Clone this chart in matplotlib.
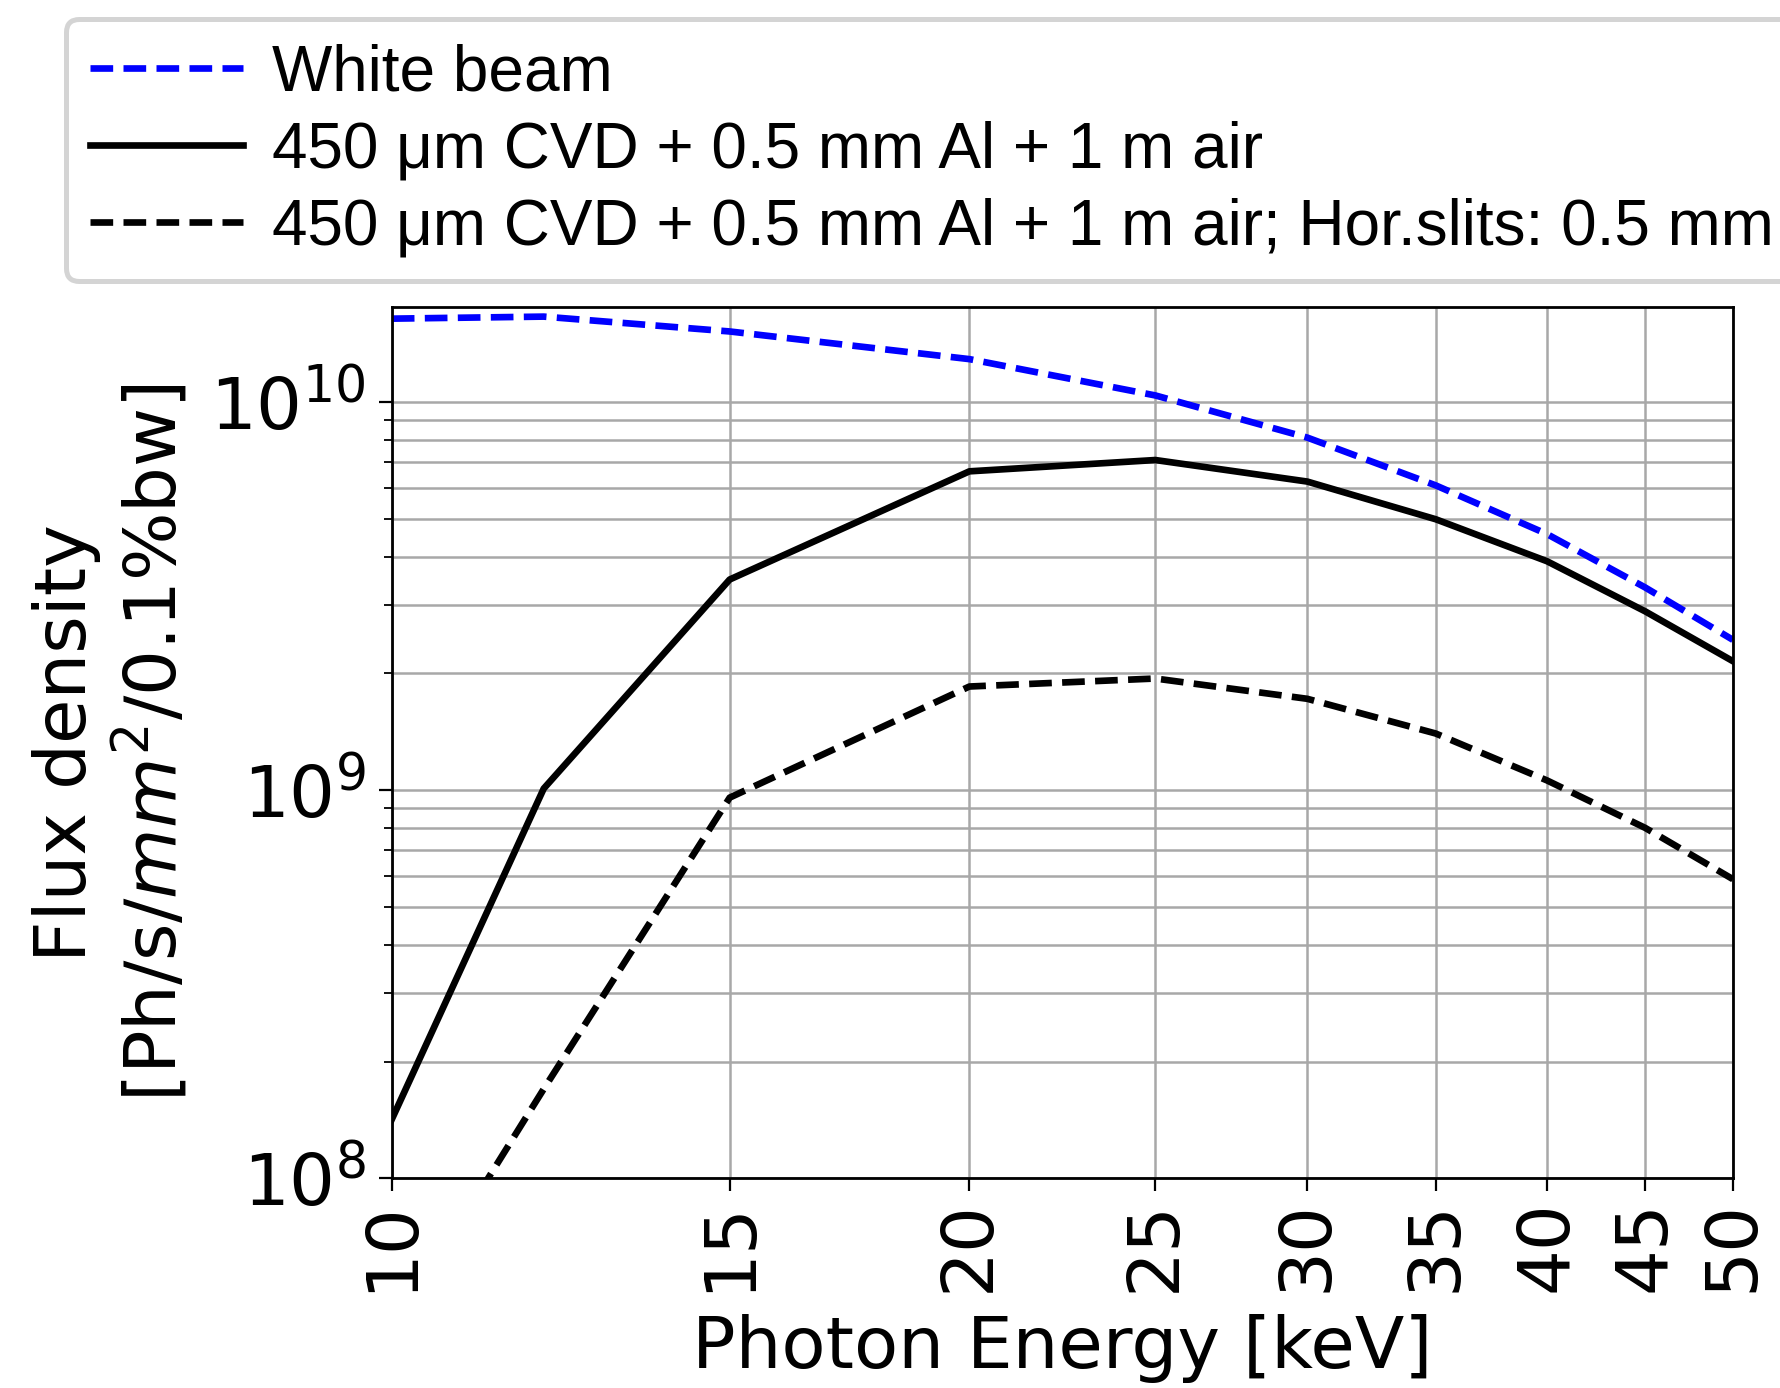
import matplotlib
matplotlib.use("Agg")
import matplotlib.pyplot as plt
from matplotlib.ticker import FixedLocator, NullLocator, FixedFormatter, LogLocator

energy = [10, 12, 15, 20, 25, 30, 35, 40, 45, 50]
white_beam = [1.64e10, 1.66e10, 1.52e10, 1.29e10, 1.04e10, 8.1e9, 6.1e9, 4.57e9, 3.33e9, 2.44e9]
filtered = [1.42e8, 1.01e9, 3.49e9, 6.63e9, 7.09e9, 6.24e9, 4.99e9, 3.89e9, 2.89e9, 2.15e9]
filtered_slits = [4.0e7, 1.7e8, 9.57e8, 1.85e9, 1.94e9, 1.72e9, 1.40e9, 1.06e9, 8.0e8, 5.9e8]

labels = ["White beam",
          "450 μm CVD + 0.5 mm Al + 1 m air",
          "450 μm CVD + 0.5 mm Al + 1 m air; Hor.slits: 0.5 mm"]
xticks = [10, 15, 20, 25, 30, 35, 40, 45, 50]

fig = plt.figure(figsize=(17.81, 13.88), dpi=100)
ax = fig.add_axes([0.220, 0.151, 0.753, 0.628])

LW = 4.8
DASH = (3.4, 1.55)
l1, = ax.plot(energy, white_beam, color="blue", lw=LW, dashes=DASH)
l2, = ax.plot(energy, filtered, color="black", lw=LW)
l3, = ax.plot(energy, filtered_slits, color="black", lw=LW, dashes=DASH)

ax.set_xscale("log")
ax.set_yscale("log")
ax.set_xlim(10, 50)
ax.set_ylim(1e8, 1.76e10)

ax.xaxis.set_major_locator(FixedLocator(xticks))
ax.xaxis.set_major_formatter(FixedFormatter([str(v) for v in xticks]))
ax.xaxis.set_minor_locator(NullLocator())
ax.yaxis.set_major_locator(LogLocator(base=10, numticks=10))
ax.yaxis.set_minor_locator(LogLocator(base=10, subs=range(2, 10), numticks=20))

ax.grid(True, which="major", color="#a8a8a8", lw=1.8)
ax.grid(True, which="minor", axis="y", color="#a8a8a8", lw=1.8)
ax.set_axisbelow(True)

ax.tick_params(axis="x", which="major", length=9.5, width=1.6, labelsize=52, pad=6)
ax.tick_params(axis="y", which="major", length=9.5, width=1.6, labelsize=52, pad=9)
ax.tick_params(axis="y", which="minor", length=5.5, width=1.3)
for lab in ax.get_xticklabels():
    lab.set_rotation(90)
for s in ax.spines.values():
    s.set_linewidth(2)

ax.set_xlabel("Photon Energy [keV]", fontsize=52, labelpad=16)
ax.set_ylabel("Flux density\n[Ph/s/$mm^2$/0.1%bw]", fontsize=52, labelpad=13,
              linespacing=1.15)

leg = fig.legend([l1, l2, l3], labels, loc="upper left",
                 bbox_to_anchor=(0.037, 0.986), prop={"family": "Liberation Sans", "size": 46},
                 handlelength=2.4, handletextpad=0.46, labelspacing=0.27,
                 borderpad=0.37, borderaxespad=0, fancybox=True, framealpha=1)
leg.get_frame().set_edgecolor("0.83")
leg.get_frame().set_linewidth(3.6)

fig.savefig("out.png", dpi=100)
